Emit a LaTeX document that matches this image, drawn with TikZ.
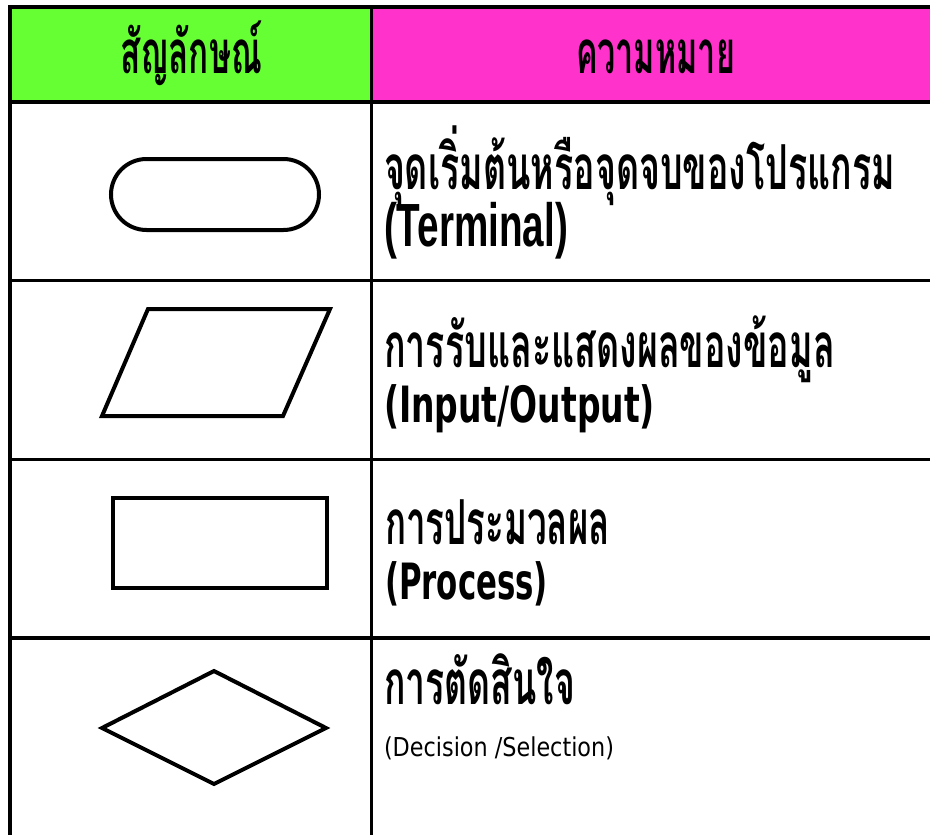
\documentclass[tikz,border=0pt]{standalone}
\usepackage{fontspec}
\usepackage{graphicx}
\newfontfamily\thaifont[Script=Thai]{Loma}
\newfontfamily\latA{Liberation Sans}
\newfontfamily\latB{DejaVu Sans}
\newcommand\fitw[2]{\resizebox{#1}{\height}{#2}}
\definecolor{hgreen}{HTML}{66FF33}
\definecolor{hmagenta}{HTML}{FF33CC}
\tikzset{
  rowtxt/.style={anchor=base west, inner sep=0pt, outer sep=0pt},
  headtxt/.style={anchor=base, inner sep=0pt, outer sep=0pt},
  grid/.style={draw=black, line width=3.5pt},
  shapeline/.style={draw=black, line width=4pt, line join=miter},
}
\begin{document}
\begin{tikzpicture}[x=1pt,y=-1pt]
\useasboundingbox (0,0) rectangle (930,835);
% header fills
\fill[hgreen] (10,7) rectangle (371.5,102);
\fill[hmagenta] (371.5,7) rectangle (930,102);
% grid
\draw[grid, line width=4.5pt] (10,835) -- (10,7) -- (930,7);
\draw[grid, line width=4.5pt] (8,102) -- (930,102);
\draw[grid, line width=3.5pt] (371.5,7) -- (371.5,835);
\draw[grid] (8,280.5) -- (930,280.5);
\draw[grid] (8,459.5) -- (930,459.5);
\draw[grid] (8,638) -- (930,638);
% header texts
\node[headtxt] (h1) at (191,73) {\fitw{142pt}{\thaifont\fontsize{60}{66}\selectfont\bfseries สัญลักษณ์}};
\node[headtxt] (h2) at (655.5,73) {\fitw{159pt}{\thaifont\fontsize{60}{66}\selectfont\bfseries ความหมาย}};
% symbols
\draw[shapeline, rounded corners=35.5pt] (111,159) rectangle (319,230);
\draw[shapeline] (148,309) -- (330,309) -- (283,416) -- (102,416) -- cycle;
\draw[shapeline] (113,498) rectangle (327,588);
\draw[shapeline] (102,728) -- (214,671) -- (326,728) -- (214,784) -- cycle;
% row texts
\node[rowtxt] (t1a) at (384,189) {\fitw{511pt}{\thaifont\fontsize{62}{70}\selectfont\bfseries จุดเริ่มต้นหรือจุดจบของโปรแกรม}};
\node[rowtxt] (t1b) at (384,246) {\fitw{184pt}{\latA\fontsize{61}{70}\selectfont\bfseries (Terminal)}};
\node[rowtxt] (t2a) at (384,367) {\fitw{451pt}{\thaifont\fontsize{62}{70}\selectfont\bfseries การรับและแสดงผลของข้อมูล}};
\node[rowtxt] (t2b) at (384,422) {\fitw{271pt}{\latB\fontsize{50}{56}\selectfont\bfseries (Input/Output)}};
\node[rowtxt] (t3a) at (385,544) {\fitw{225pt}{\thaifont\fontsize{62}{70}\selectfont\bfseries การประมวลผล}};
\node[rowtxt] (t3b) at (385,599) {\fitw{163pt}{\latB\fontsize{50}{56}\selectfont\bfseries (Process)}};
\node[rowtxt] (t4a) at (384,704) {\fitw{191pt}{\thaifont\fontsize{62}{70}\selectfont\bfseries การตัดสินใจ}};
\node[rowtxt] (t4b) at (384,756) {\fitw{230pt}{\latB\fontsize{26}{30}\selectfont (Decision /Selection)}};
\end{tikzpicture}
\end{document}
